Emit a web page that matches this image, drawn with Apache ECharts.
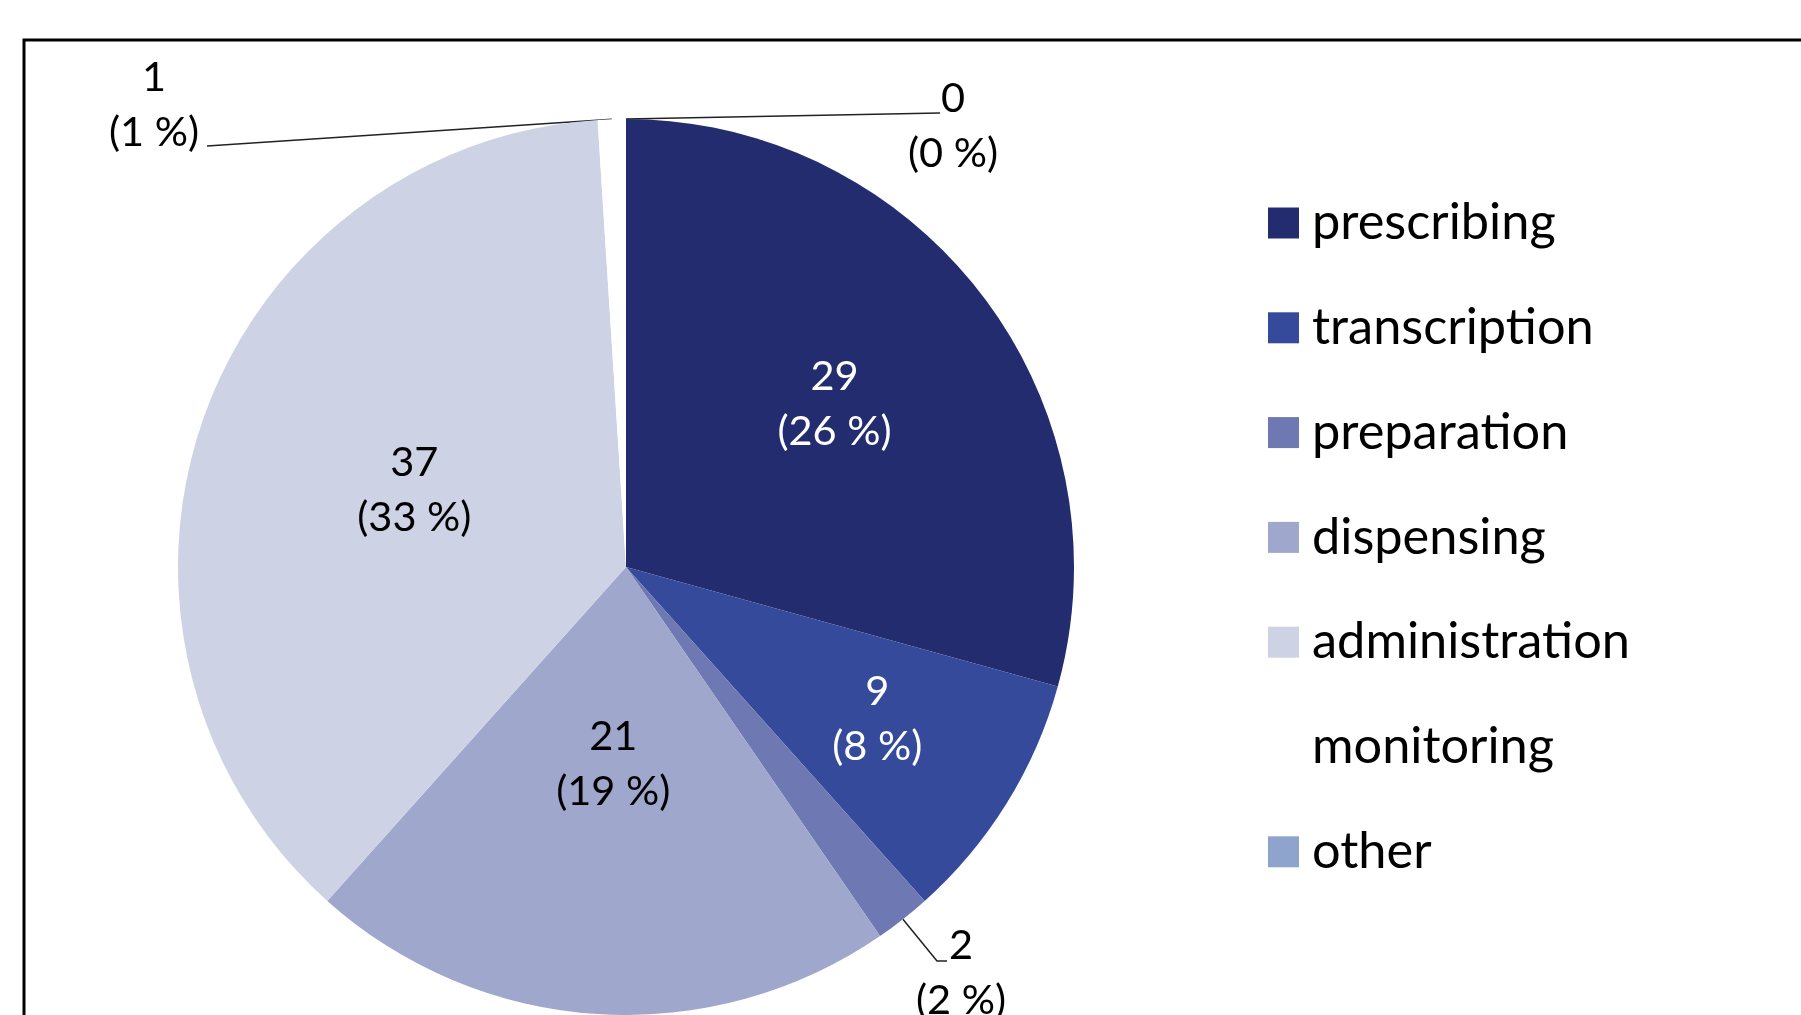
<!DOCTYPE html>
<html>
<head>
<meta charset="utf-8">
<title>errors by stage</title>
<script src="https://cdn.jsdelivr.net/npm/echarts@6/dist/echarts.min.js"></script>
<style>
  html, body { margin: 0; padding: 0; background: #fff; }
  #main { width: 1801px; height: 1015px; }
</style>
</head>
<body>
<div id="main"></div>
<script>
  // data
  var stages = ['prescribing', 'transcription', 'preparation', 'dispensing', 'administration', 'monitoring', 'other'];
  var counts = [29, 9, 2, 21, 37, 1, 0];
  var shownPct = [26, 8, 2, 19, 33, 1, 0];   // percentages as printed on the labels

  var colors = ['#222c6e', '#354a9b', '#6e78b3', '#a0a7cc', '#ced2e5', '#ffffff', '#8ea4cc'];
  var labelColors = ['#fff', '#fff', '#000', '#000', '#000', '#000', '#000'];

  // where the labels sit (share of the radius for the inside ones)
  var insideDist = [0.585, 0.66, null, 0.449, 0.5, null, null];
  var outsideLabel = {
    2: { x: 961, y: 973, end: [[937, 961], [947, 961]] },
    5: { x: 154, y: 105, end: [[207, 146], [207, 146]] },
    6: { x: 953, y: 126, end: [[940, 113], [940, 113]] }
  };

  var CX = 626, CY = 567, R = 448;
  var total = counts.reduce(function (a, b) { return a + b; }, 0);

  function midAngle(i) {
    var before = 0;
    for (var k = 0; k < i; k++) before += counts[k];
    return (before + counts[i] / 2) / total * Math.PI * 2;
  }

  var myChart = echarts.init(document.getElementById('main'));

  option = {
    backgroundColor: '#fff',
    animation: false,
    graphic: [
      {
        type: 'rect',
        shape: { x: 24, y: 40, width: 1800, height: 1000 },
        style: { fill: 'none', stroke: '#000', lineWidth: 3 },
        silent: true
      }
    ],
    legend: {
      orient: 'vertical',
      left: 1263,
      top: 192.5,
      itemWidth: 31,
      itemHeight: 31,
      itemGap: 53.8,
      icon: 'rect',
      selectedMode: false,
      data: stages,
      textStyle: {
        fontFamily: 'Lato',
        fontSize: 50.5,
        lineHeight: 31,
        color: '#000',
        padding: [0, 0, 0, 8]
      }
    },
    series: [
      {
        type: 'pie',
        center: [CX, CY],
        radius: R,
        startAngle: 90,
        clockwise: true,
        avoidLabelOverlap: false,
        silent: true,
        data: stages.map(function (s, i) {
          var out = outsideLabel[i] != null;
          return {
            name: s,
            value: counts[i],
            itemStyle: { color: colors[i] },
            label: { position: out ? 'outside' : 'inside', color: labelColors[i] },
            labelLine: { show: out }
          };
        }),
        label: {
          show: true,
          fontFamily: 'Lato',
          fontSize: 41.5,
          lineHeight: 55,
          formatter: function (p) {
            return p.value + '\n(' + shownPct[p.dataIndex] + ' %)';
          }
        },
        labelLine: {
          length: 10,
          length2: 10,
          lineStyle: { color: '#222', width: 1.5 }
        },
        labelLayout: function (p) {
          var i = p.dataIndex;
          var o = outsideLabel[i];
          if (o) {
            var a = midAngle(i);
            var p0 = [CX + R * Math.sin(a), CY - R * Math.cos(a)];
            return {
              x: o.x, y: o.y, align: 'center', verticalAlign: 'middle',
              labelLinePoints: [p0].concat(o.end)
            };
          }
          var a2 = midAngle(i);
          var d = insideDist[i] * R;
          return {
            x: CX + d * Math.sin(a2),
            y: CY - d * Math.cos(a2) - 4,
            align: 'center',
            verticalAlign: 'middle'
          };
        }
      }
    ]
  };

  myChart.setOption(option);
</script>
</body>
</html>
